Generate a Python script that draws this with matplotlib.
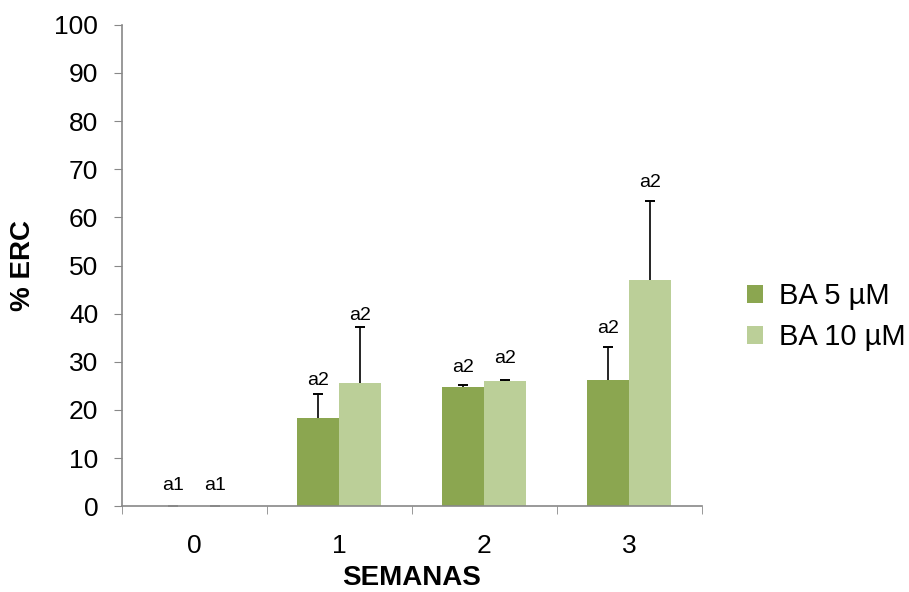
import numpy as np
import matplotlib.pyplot as plt

plt.rcParams['font.family'] = ['Liberation Sans', 'DejaVu Sans']

semanas = ['0', '1', '2', '3']
ba5 = [0.0, 18.3, 24.8, 26.2]
ba5_err = [0.0, 5.0, 0.4, 6.9]
ba10 = [0.0, 25.6, 26.0, 47.0]
ba10_err = [0.0, 11.6, 0.3, 16.5]
letras5 = ['a1', 'a2', 'a2', 'a2']
letras10 = ['a1', 'a2', 'a2', 'a2']

verde = '#8ba650'
verde_claro = '#bbcf98'
gris = '#888888'

fig = plt.figure(figsize=(9.09, 5.92), dpi=100)
ax = fig.add_axes([0.134, 0.145, 0.638, 0.813])

x = np.arange(len(semanas))
w = 0.29
b1 = ax.bar(x - w / 2, ba5, w, color=verde, label='BA 5 µM')
b2 = ax.bar(x + w / 2, ba10, w, color=verde_claro, label='BA 10 µM')

# only the upper whisker is shown; the lower cap gets hidden
for xs, vals, errs in [(x - w / 2, ba5, ba5_err), (x + w / 2, ba10, ba10_err)]:
    for xi, v, e in zip(xs, vals, errs):
        c = gris if e == 0 else 'black'
        _, caps, _ = ax.errorbar(xi, v, yerr=[[0], [e]], fmt='none', ecolor=c,
                                 elinewidth=1.2, capsize=3.8, capthick=1.4)
        caps[0].set_visible(False)

# text offsets (points) above each whisker, placed by hand
off5 = [11.5, 6.5, 9.5, 10]
off10 = [11.5, 5, 12, 9.5]
for xs, vals, errs, letras, offs in [(x - w / 2, ba5, ba5_err, letras5, off5),
                                      (x + w / 2, ba10, ba10_err, letras10, off10)]:
    for xi, v, e, t, o in zip(xs, vals, errs, letras, offs):
        ax.annotate(t, (xi, v + e), xytext=(0, o), textcoords='offset points',
                    ha='center', va='baseline', fontsize=14)

ax.set_xlim(-0.5, 3.5)
ax.set_ylim(0, 100)
ax.set_yticks(range(0, 101, 10))
ax.set_xticks(x)
ax.set_xticklabels(semanas)
ax.set_xticks(np.arange(-0.5, 3.6, 1), minor=True)
ax.tick_params(axis='x', which='major', length=0, labelsize=19, pad=20)
ax.tick_params(axis='x', which='minor', length=6, color=gris, direction='out')
ax.tick_params(axis='y', length=6, color=gris, direction='out', labelsize=19, pad=11)

for s in ['top', 'right']:
    ax.spines[s].set_visible(False)
for s in ['left', 'bottom']:
    ax.spines[s].set_color(gris)
    ax.spines[s].set_linewidth(1.2)

ax.set_ylabel('% ERC', fontsize=20, fontweight='bold', labelpad=13)
ax.set_xlabel('SEMANAS', fontsize=20, fontweight='bold', labelpad=5)

fig.legend(handles=[b1, b2], loc='center left', bbox_to_anchor=(0.822, 0.465),
           frameon=False, fontsize=21, handlelength=0.55, handleheight=0.55,
           handletextpad=0.55, labelspacing=0.45, borderpad=0, borderaxespad=0)

fig.savefig('out.png', dpi=100)
